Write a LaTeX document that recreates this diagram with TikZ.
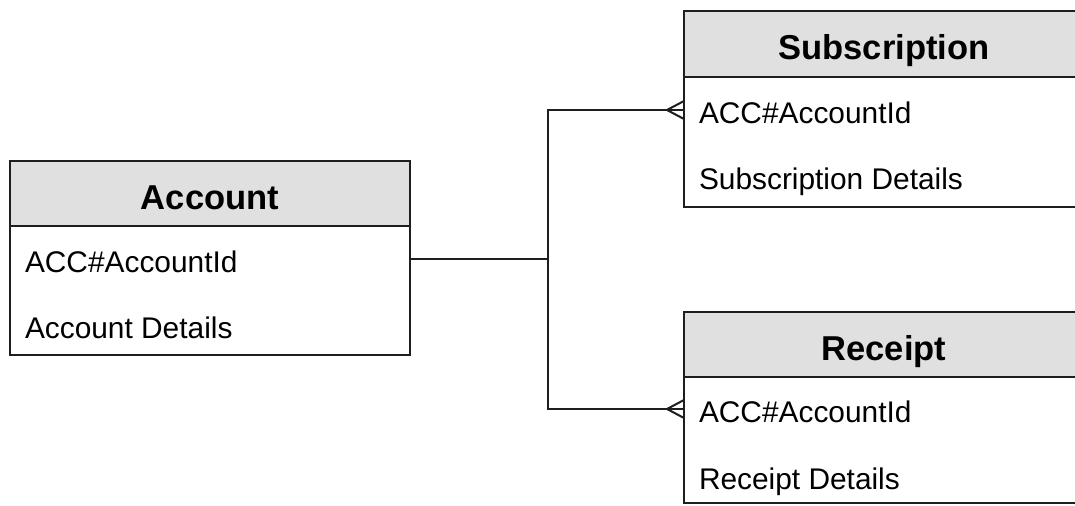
\documentclass[tikz,border=0pt]{standalone}
\usepackage{fontspec}
\setmainfont{Liberation Sans}
\usetikzlibrary{calc}
\definecolor{linec}{RGB}{30,30,30}
\definecolor{hdrfill}{RGB}{224,224,224}
\begin{document}
\begin{tikzpicture}[x=0.75pt,y=-0.75pt,
  boxbody/.style={draw=linec, line width=1.6pt, fill=white, anchor=north west,
    minimum width=300pt, inner sep=0pt, outer sep=0pt},
  boxhead/.style={draw=linec, line width=1.6pt, fill=hdrfill, anchor=north west,
    minimum width=300pt, minimum height=48.75pt, inner sep=0pt, outer sep=0pt},
  headtext/.style={font=\fontsize{25.9}{30}\selectfont\bfseries, inner sep=0pt,
    text height=0.716em+14.5pt, text depth=0pt},
  rowtext/.style={font=\fontsize{22.4}{27}\selectfont, anchor=west, inner xsep=11.25pt,
    inner ysep=0pt, outer sep=0pt, text height=0.716em+13pt, text depth=0pt},
  conn/.style={draw=linec, line width=1.6pt},
  crow/.style={draw=linec, line width=1.5pt}
]
\clip (0,0) rectangle (1075,506);
\fill[white] (0,0) rectangle (1075,506);

% Account
\node[boxbody, minimum height=145.5pt] (acc) at (10,161) {};
\node[boxhead] (acchead) at (10,161) {};
\node[headtext] (acct) at (210,195) {Account};
\node[rowtext] (accid) at (10,259) {ACC\#AccountId};
\node[rowtext] (accdet) at (10,325) {Account Details};

% Subscription
\node[boxbody, minimum height=147pt] (sub) at (684,11) {};
\node[boxhead, minimum height=49.5pt] (subhead) at (684,11) {};
\node[headtext] (subt) at (884,45) {Subscription};
\node[rowtext] (subid) at (684,110) {ACC\#AccountId};
\node[rowtext] (subdet) at (684,176) {Subscription Details};

% Receipt
\node[boxbody, minimum height=143.25pt] (rec) at (684,312) {};
\node[boxhead] (rechead) at (684,312) {};
\node[headtext] (rect) at (884,346) {Receipt};
\node[rowtext] (recid) at (684,409) {ACC\#AccountId};
\node[rowtext] (recdet) at (684,476) {Receipt Details};

% connectors
\coordinate (j) at (548,259);
\draw[conn] (accid.west -| acc.east) -- (j);
\draw[conn] (j) |- (subid.west);
\draw[conn] (j) |- (recid.west);

% crow's feet
\draw[crow] ($(subid.west)+(-17,0)$) -- ($(subid.west)+(0,-9)$);
\draw[crow] ($(subid.west)+(-17,0)$) -- ($(subid.west)+(0,9)$);
\draw[crow] ($(recid.west)+(-17,0)$) -- ($(recid.west)+(0,-9)$);
\draw[crow] ($(recid.west)+(-17,0)$) -- ($(recid.west)+(0,9)$);
\end{tikzpicture}
\end{document}
